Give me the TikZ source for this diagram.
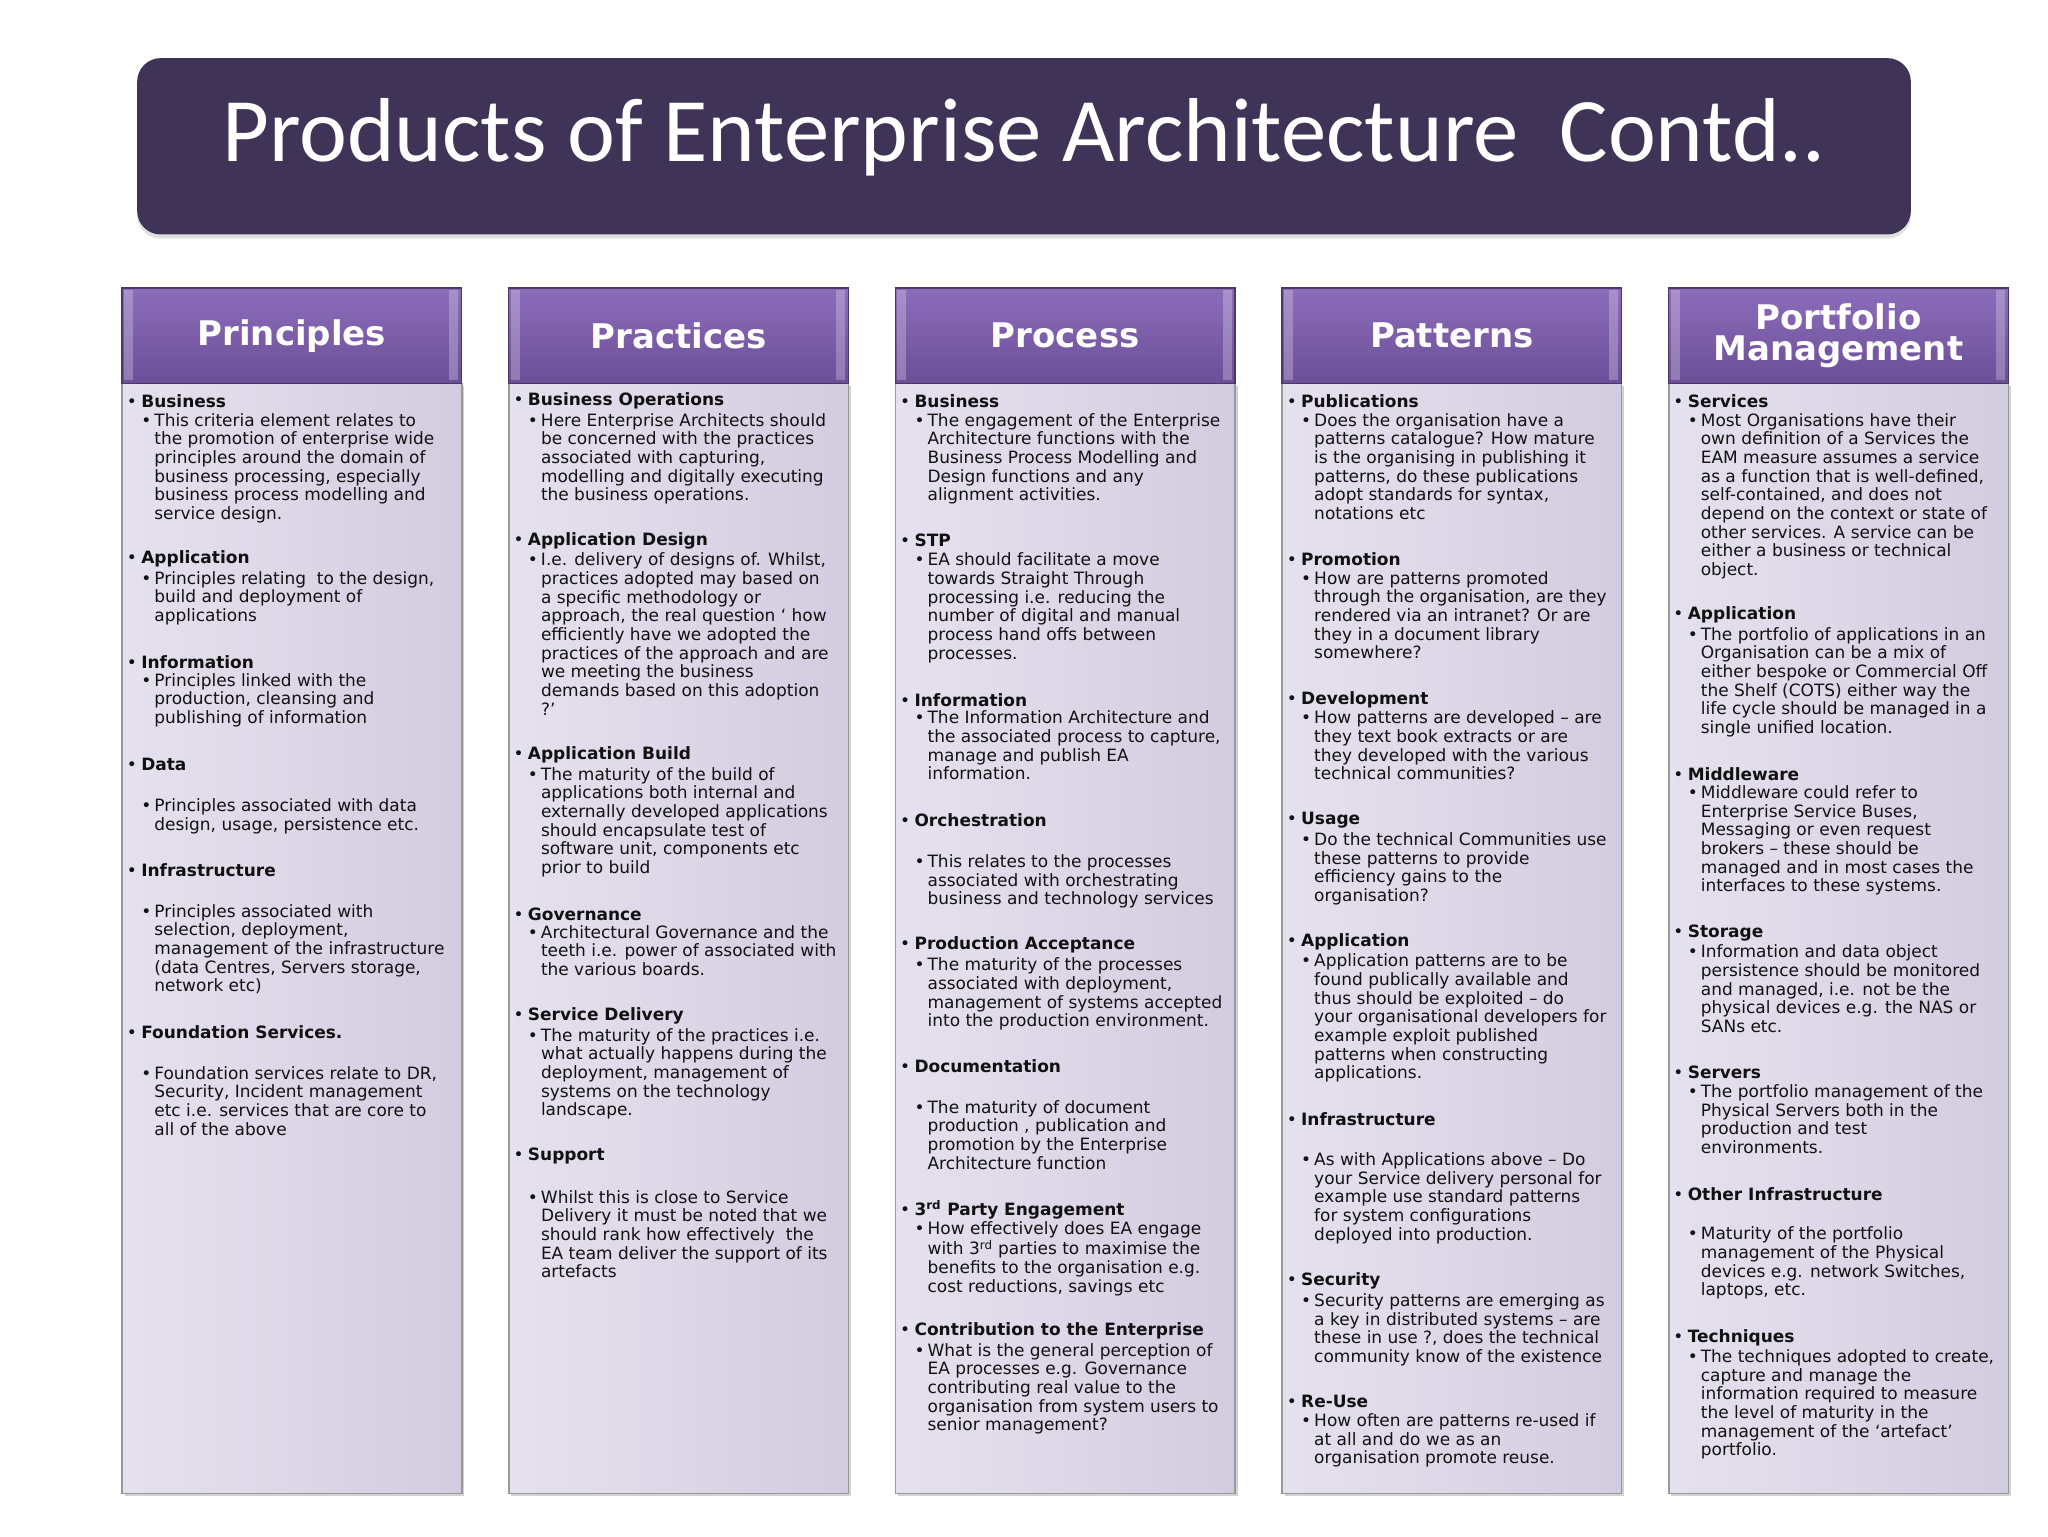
\documentclass[tikz,border=0pt]{standalone}
\usepackage{fontspec}
\setmainfont{DejaVu Sans}
\newfontfamily\titlefont{Carlito}
\usetikzlibrary{shadows}
\definecolor{banner}{HTML}{3F3457}
\definecolor{hdtop}{HTML}{8C6DBA}
\definecolor{hdbot}{HTML}{6B4E98}
\definecolor{bodyA}{HTML}{E6E1EE}
\definecolor{bodyB}{HTML}{D3CCE0}
\definecolor{txt}{HTML}{111111}
\newcounter{nn}
\tikzset{
 hdbox/.style={draw=hdbot!70!black, top color=hdtop, bottom color=hdbot, line width=1pt},
 bdbox/.style={draw=gray!80, left color=bodyA, right color=bodyB, line width=1.2pt, drop shadow={opacity=0.35, shadow xshift=2pt, shadow yshift=-2pt}},
 hdtext/.style={text=white, font=\fontsize{26}{28}\selectfont\bfseries, align=center},
 sechd/.style={anchor=west, inner sep=0pt, text=txt, font=\fontsize{13}{14.3}\selectfont\bfseries},
 secbd/.style={anchor=north west, inner sep=0pt, text=txt, align=left, font=\fontsize{13}{14.3}\selectfont}
}
\newcommand{\hd}[3]{\stepcounter{nn}\node[sechd] (h\thenn) at (#1,-#2) {\makebox[11pt][l]{\mdseries•}#3};}
\newcommand{\bd}[3]{\stepcounter{nn}\node[secbd] (b\thenn) at (#1+11,-#2+8) {\makebox[10pt][l]{•}\begin{tabular}[t]{@{}l@{}}#3\end{tabular}};}
\begin{document}
\begin{tikzpicture}[x=1pt,y=1pt]
\useasboundingbox (0,0) rectangle (1568,-1176);
\fill[white] (0,0) rectangle (1568,-1176);
\node[draw=none, fill=banner, rounded corners=18pt, minimum width=1358pt, minimum height=135pt, drop shadow={opacity=0.25, shadow xshift=0pt, shadow yshift=-3pt}] (banner) at (784,-112) {};
\node[text=white, font=\titlefont\fontsize{69.5}{80}\selectfont] (title) at (784,-105) {Products of Enterprise Architecture\ \ Contd..};
% columns
\foreach \x/\t [count=\i] in {93/Principles,389/Practices,685/Process,981/Patterns,1277/{Portfolio\\[-4pt]Management}}{
 \node[bdbox, anchor=north west, minimum width=260pt, minimum height=850pt] (body\i) at (\x,-293) {};
 \node[hdbox, anchor=north west, minimum width=260pt, minimum height=73pt] (head\i) at (\x,-220) {};
 \fill[white, opacity=0.25] (\x+2,-222) rectangle (\x+9,-291);
 \fill[white, opacity=0.25] (\x+251,-222) rectangle (\x+258,-291);
 \node[hdtext] (ht\i) at (head\i.center) {\t};
}
% Principles
\def\X{97}
\hd{\X}{307}{Business}
\bd{\X}{324}{This criteria element relates to\\the promotion of enterprise wide\\principles around the domain of\\business processing, especially\\business process modelling and\\service design.}
\hd{\X}{428}{Application}
\bd{\X}{445}{Principles relating\ \ to the design,\\build and deployment of\\applications}
\hd{\X}{507}{Information}
\bd{\X}{523}{Principles linked with the\\production, cleansing and\\publishing of information}
\hd{\X}{585}{Data}
\bd{\X}{619}{Principles associated with data\\design, usage, persistence etc.}
\hd{\X}{666}{Infrastructure}
\bd{\X}{700}{Principles associated with\\selection, deployment,\\management of the infrastructure\\(data Centres, Servers storage,\\network etc)}
\hd{\X}{790}{Foundation Services.}
\bd{\X}{824}{Foundation services relate to DR,\\Security, Incident management\\etc i.e. services that are core to\\all of the above}
% Practices
\def\X{393}
\hd{\X}{307}{Business Operations}
\bd{\X}{324}{Here Enterprise Architects should\\be concerned with the practices\\associated with capturing,\\modelling and digitally executing\\the business operations.}
\hd{\X}{414}{Application Design}
\bd{\X}{431}{I.e. delivery of designs of. Whilst,\\practices adopted may based on\\a specific methodology or\\approach, the real question ‘ how\\efficiently have we adopted the\\practices of the approach and are\\we meeting the business\\demands based on this adoption\\?’}
\hd{\X}{578}{Application Build}
\bd{\X}{595}{The maturity of the build of\\applications both internal and\\externally developed applications\\should encapsulate test of\\software unit, components etc\\prior to build}
\hd{\X}{700}{Governance}
\bd{\X}{716}{Architectural Governance and the\\teeth i.e. power of associated with\\the various boards.}
\hd{\X}{778}{Service Delivery}
\bd{\X}{795}{The maturity of the practices i.e.\\what actually happens during the\\deployment, management of\\systems on the technology\\landscape.}
\hd{\X}{885}{Support}
\bd{\X}{919}{Whilst this is close to Service\\Delivery it must be noted that we\\should rank how effectively\ \ the\\EA team deliver the support of its\\artefacts}
% Process
\def\X{689}
\hd{\X}{307}{Business}
\bd{\X}{324}{The engagement of the Enterprise\\Architecture functions with the\\Business Process Modelling and\\Design functions and any\\alignment activities.}
\hd{\X}{414}{STP}
\bd{\X}{431}{EA should facilitate a move\\towards Straight Through\\processing i.e. reducing the\\number of digital and manual\\process hand offs between\\processes.}
\hd{\X}{536}{Information}
\bd{\X}{552}{The Information Architecture and\\the associated process to capture,\\manage and publish EA\\information.}
\hd{\X}{628}{Orchestration}
\bd{\X}{662}{This relates to the processes\\associated with orchestrating\\business and technology services}
\hd{\X}{723}{Production Acceptance}
\bd{\X}{741}{The maturity of the processes\\associated with deployment,\\management of systems accepted\\into the production environment.}
\hd{\X}{816}{Documentation}
\bd{\X}{850}{The maturity of document\\production , publication and\\promotion by the Enterprise\\Architecture function}
\hd{\X}{926}{3\textsuperscript{rd} Party Engagement}
\bd{\X}{943}{How effectively does EA engage\\with 3\textsuperscript{rd} parties to maximise the\\benefits to the organisation e.g.\\cost reductions, savings etc}
\hd{\X}{1019}{Contribution to the Enterprise}
\bd{\X}{1036}{What is the general perception of\\EA processes e.g. Governance\\contributing real value to the\\organisation from system users to\\senior management?}
% Patterns
\def\X{985}
\hd{\X}{307}{Publications}
\bd{\X}{324}{Does the organisation have a\\patterns catalogue? How mature\\is the organising in publishing it\\patterns, do these publications\\adopt standards for syntax,\\notations etc}
\hd{\X}{428}{Promotion}
\bd{\X}{445}{How are patterns promoted\\through the organisation, are they\\rendered via an intranet? Or are\\they in a document library\\somewhere?}
\hd{\X}{536}{Development}
\bd{\X}{552}{How patterns are developed – are\\they text book extracts or are\\they developed with the various\\technical communities?}
\hd{\X}{628}{Usage}
\bd{\X}{645}{Do the technical Communities use\\these patterns to provide\\efficiency gains to the\\organisation?}
\hd{\X}{721}{Application}
\bd{\X}{738}{Application patterns are to be\\found publically available and\\thus should be exploited – do\\your organisational developers for\\example exploit published\\patterns when constructing\\applications.}
\hd{\X}{857}{Infrastructure}
\bd{\X}{890}{As with Applications above – Do\\your Service delivery personal for\\example use standard patterns\\for system configurations\\deployed into production.}
\hd{\X}{981}{Security}
\bd{\X}{998}{Security patterns are emerging as\\a key in distributed systems – are\\these in use ?, does the technical\\community know of the existence}
\hd{\X}{1073}{Re-Use}
\bd{\X}{1090}{How often are patterns re-used if\\at all and do we as an\\organisation promote reuse.}
% Portfolio
\def\X{1281}
\hd{\X}{307}{Services}
\bd{\X}{324}{Most Organisations have their\\own definition of a Services the\\EAM measure assumes a service\\as a function that is well-defined,\\self-contained, and does not\\depend on the context or state of\\other services. A service can be\\either a business or technical\\object.}
\hd{\X}{471}{Application}
\bd{\X}{488}{The portfolio of applications in an\\Organisation can be a mix of\\either bespoke or Commercial Off\\the Shelf (COTS) either way the\\life cycle should be managed in a\\single unified location.}
\hd{\X}{593}{Middleware}
\bd{\X}{609}{Middleware could refer to\\Enterprise Service Buses,\\Messaging or even request\\brokers – these should be\\managed and in most cases the\\interfaces to these systems.}
\hd{\X}{714}{Storage}
\bd{\X}{731}{Information and data object\\persistence should be monitored\\and managed, i.e. not be the\\physical devices e.g. the NAS or\\SANs etc.}
\hd{\X}{821}{Servers}
\bd{\X}{838}{The portfolio management of the\\Physical Servers both in the\\production and test\\environments.}
\hd{\X}{914}{Other Infrastructure}
\bd{\X}{947}{Maturity of the portfolio\\management of the Physical\\devices e.g. network Switches,\\laptops, etc.}
\hd{\X}{1024}{Techniques}
\bd{\X}{1041}{The techniques adopted to create,\\capture and manage the\\information required to measure\\the level of maturity in the\\management of the ‘artefact’\\portfolio.}
\end{tikzpicture}
\end{document}
